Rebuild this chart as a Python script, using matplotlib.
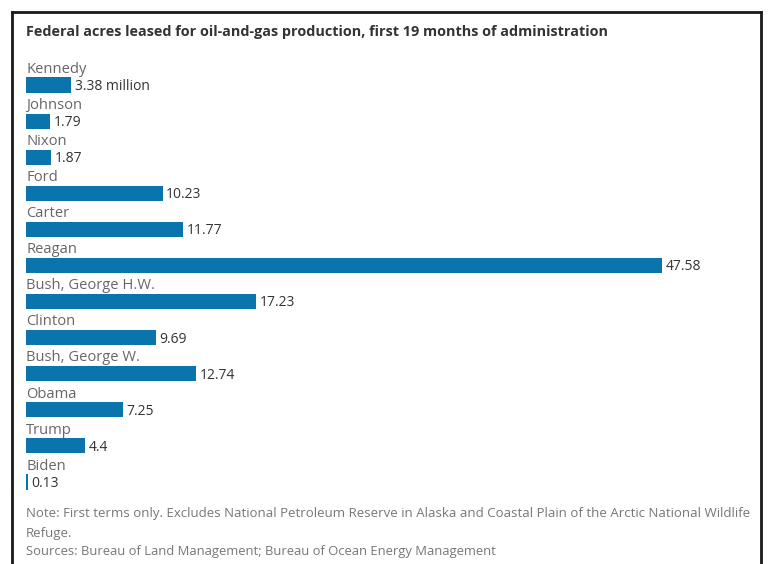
import matplotlib
matplotlib.use("Agg")
import matplotlib.pyplot as plt
from matplotlib.lines import Line2D

presidents = ["Kennedy", "Johnson", "Nixon", "Ford", "Carter", "Reagan",
              "Bush, George H.W.", "Clinton", "Bush, George W.", "Obama", "Trump", "Biden"]
acres_millions = [3.38, 1.79, 1.87, 10.23, 11.77, 47.58, 17.23, 9.69, 12.74, 7.25, 4.4, 0.13]
value_labels = ["3.38 million", "1.79", "1.87", "10.23", "11.77", "47.58",
                "17.23", "9.69", "12.74", "7.25", "4.4", "0.13"]

title = "Federal acres leased for oil-and-gas production, first 19 months of administration"
note_lines = ["Note: First terms only. Excludes National Petroleum Reserve in Alaska and Coastal Plain of the Arctic National Wildlife",
              "Refuge."]
sources = "Sources: Bureau of Land Management; Bureau of Ocean Energy Management"

W, H = 772, 564
plt.rcParams['font.family'] = ['Open Sans', 'DejaVu Sans']
fig = plt.figure(figsize=(W / 100, H / 100), dpi=100)
fig.patch.set_facecolor("white")

def fx(px):
    return px / W

def fy(py):
    return 1 - py / H

# frame
lw = 2.0
fig.add_artist(Line2D([fx(12), fx(12)], [fy(12), fy(570)], color="#1a1a1a", lw=lw))
fig.add_artist(Line2D([fx(12), fx(761)], [fy(12), fy(12)], color="#1a1a1a", lw=lw))
fig.add_artist(Line2D([fx(761), fx(761)], [fy(12), fy(570)], color="#1a1a1a", lw=lw))

row = 36.1
top_px = 85 - row / 2
bot_px = 482 + row / 2
ax = fig.add_axes([fx(26), fy(bot_px), fx(662) - fx(26), (bot_px - top_px) / H])
n = len(presidents)
ypos = list(range(n))
ax.barh(ypos, acres_millions, height=0.42, color="#0a75ad", left=0)
ax.set_xlim(0, 47.58)
ax.set_ylim(n - 0.5, -0.5)
ax.axis("off")

for i, (name, v, lab) in enumerate(zip(presidents, acres_millions, value_labels)):
    ax.text(0, i - 0.23, name, ha="left", va="bottom", fontsize=10.6, color="#666666")
    ax.annotate(lab, (v, i), xytext=(2.5, -1), textcoords="offset points",
                ha="left", va="center", fontsize=10.0, color="#333333")

fig.text(fx(26), fy(32), title, ha="left", va="center", fontsize=10.4,
         fontweight="bold", color="#333333")
for k, line in enumerate(note_lines):
    fig.text(fx(26), fy(514 + 19 * k), line, ha="left", va="center", fontsize=9.5,
             color="#777777")
fig.text(fx(26), fy(551), sources, ha="left", va="center", fontsize=9.4,
         color="#777777")

fig.savefig("out.png", dpi=100, facecolor="white")
